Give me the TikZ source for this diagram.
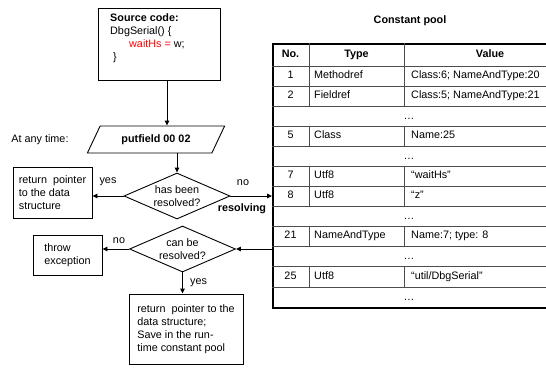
\documentclass[tikz,border=0pt]{standalone}
\usepackage{fontspec}
\setmainfont{Liberation Sans}
\usetikzlibrary{arrows.meta,shapes.geometric}
\begin{document}
\begin{tikzpicture}[x=1bp,y=-1bp,
  font=\fontsize{10.8bp}{13bp}\selectfont,
  box/.style={draw,line width=0.9bp,inner sep=0pt,align=left},
  arr/.style={draw,line width=0.9bp,-{Triangle[length=5bp,width=4.5bp]}},
  txt/.style={inner sep=0pt,align=left},
  grid/.style={line width=0.6bp,draw=black!70},
  cell/.style={inner sep=0pt,text height=8bp,text depth=2.5bp},
  decision/.style={diamond,draw,line width=0.9bp,inner sep=0pt,
    minimum width=106bp,minimum height=46bp}]
\clip (0,0) rectangle (546,367);
\useasboundingbox (0,0) rectangle (546,367);
\fill[white] (0,0) rectangle (546,367);

% ---- flow chart ----
\node[box,minimum width=122bp,minimum height=72bp] (src) at (159,44) {};
\node[txt,anchor=north west] (srctext) at (110,13.5)
  {\textbf{Source code:}\\DbgSerial() \{\\\hspace*{19bp}\textcolor{red}{waitHs =} w;\\\hspace*{3bp}\}};

\node[trapezium,draw,line width=0.9bp,trapezium left angle=52,trapezium right angle=128,
  trapezium stretches=true,minimum width=138bp,minimum height=27bp,inner sep=0pt]
  (pf) at (156,139.5) {\textbf{putfield 00 02}};
\node (anytime) at (40,140) {At any time:};

\node[decision] (d1) at (177,196) {};
\node[align=center,inner sep=0pt] (d1text) at (177,196) {has been\\resolved?};
\node[decision] (d2) at (182.5,249) {};
\node[align=center,inner sep=0pt] (d2text) at (182.5,249) {can be\\resolved?};

\node[box,minimum width=79bp,minimum height=51bp] (ret1) at (52.5,192.5)
  {return\ \ pointer\\to the data\\structure};
\node[box,minimum width=69bp,minimum height=40bp] (exc) at (67.5,255)
  {throw\\exception};
\node[box,minimum width=114bp,minimum height=70bp] (ret2) at (186,329)
  {return\ \ pointer to the\\data structure;\\Save in the run-\\time constant pool};

\node (yes1) at (108,182) {yes};
\node (no1) at (243,183) {no};
\node (resolv) at (242,209) {\textbf{resolving}};
\node (no2) at (119,241) {no};
\node (yes2) at (198.5,283) {yes};

% ---- constant pool table ----
\def\R{576}
\node (title) at (410,21) {\textbf{Constant pool}};
\node[draw,line width=2bp,minimum width=304bp,minimum height=264bp,inner sep=0pt,
  anchor=north west] (pool) at (272,43) {};

\draw[grid] (309,43) -- (309,66) (404,43) -- (404,66);
\node[cell] (hno) at (290.5,55) {\textbf{No.}};
\node[cell] (htype) at (356.5,55) {\textbf{Type}};
\node[cell] (hval) at ({(404+\R)/2},55) {\textbf{Value}};

\foreach \y in {66,86,106,126,146,166,186,206,226,246,266.5,287}
  \draw[grid] (272,\y) -- (\R,\y);

\foreach \y/\n/\t/\v in {66/1/Methodref/{Class:6; NameAndType:20},
    86/2/Fieldref/{Class:5; NameAndType:21},
    126/5/Class/{Name:25},
    166/7/Utf8/{“waitHs”},
    186/8/Utf8/{“z”},
    226/21/NameAndType/{Name:7; type: 8},
    266.5/25/Utf8/{“util/DbgSerial”}}{
  \draw[grid] (309,\y) -- (309,\y+20) (404,\y) -- (404,\y+20);
  \node[cell] (no-\n) at (290.5,\y+10) {\n};
  \node[cell,anchor=west] (type-\n) at (314,\y+10) {\t};
  \node[cell,anchor=west] (val-\n) at (411,\y+10) {\v};
}
\foreach \y [count=\i] in {106,146,206,246,287}
  \node[cell] (gap-\i) at (409,\y+10.5) {…};

% ---- connectors ----
\draw[arr] ([xshift=8bp]src.south) -- ([xshift=8bp]src.south |- pf.north);
\draw[arr] (d1.north |- pf.south) -- (d1.north);
\draw[arr] (d1.west) -- (ret1.east |- d1.west);
\draw[arr] (d1.east) -- (pool.west |- d1.east);
\draw[arr] (pool.west |- d2.east) -- (d2.east);
\draw[arr] (d2.west) -- (exc.east |- d2.west);
\draw[arr] (d2.south) -- (d2.south |- ret2.north);
\end{tikzpicture}
\end{document}
